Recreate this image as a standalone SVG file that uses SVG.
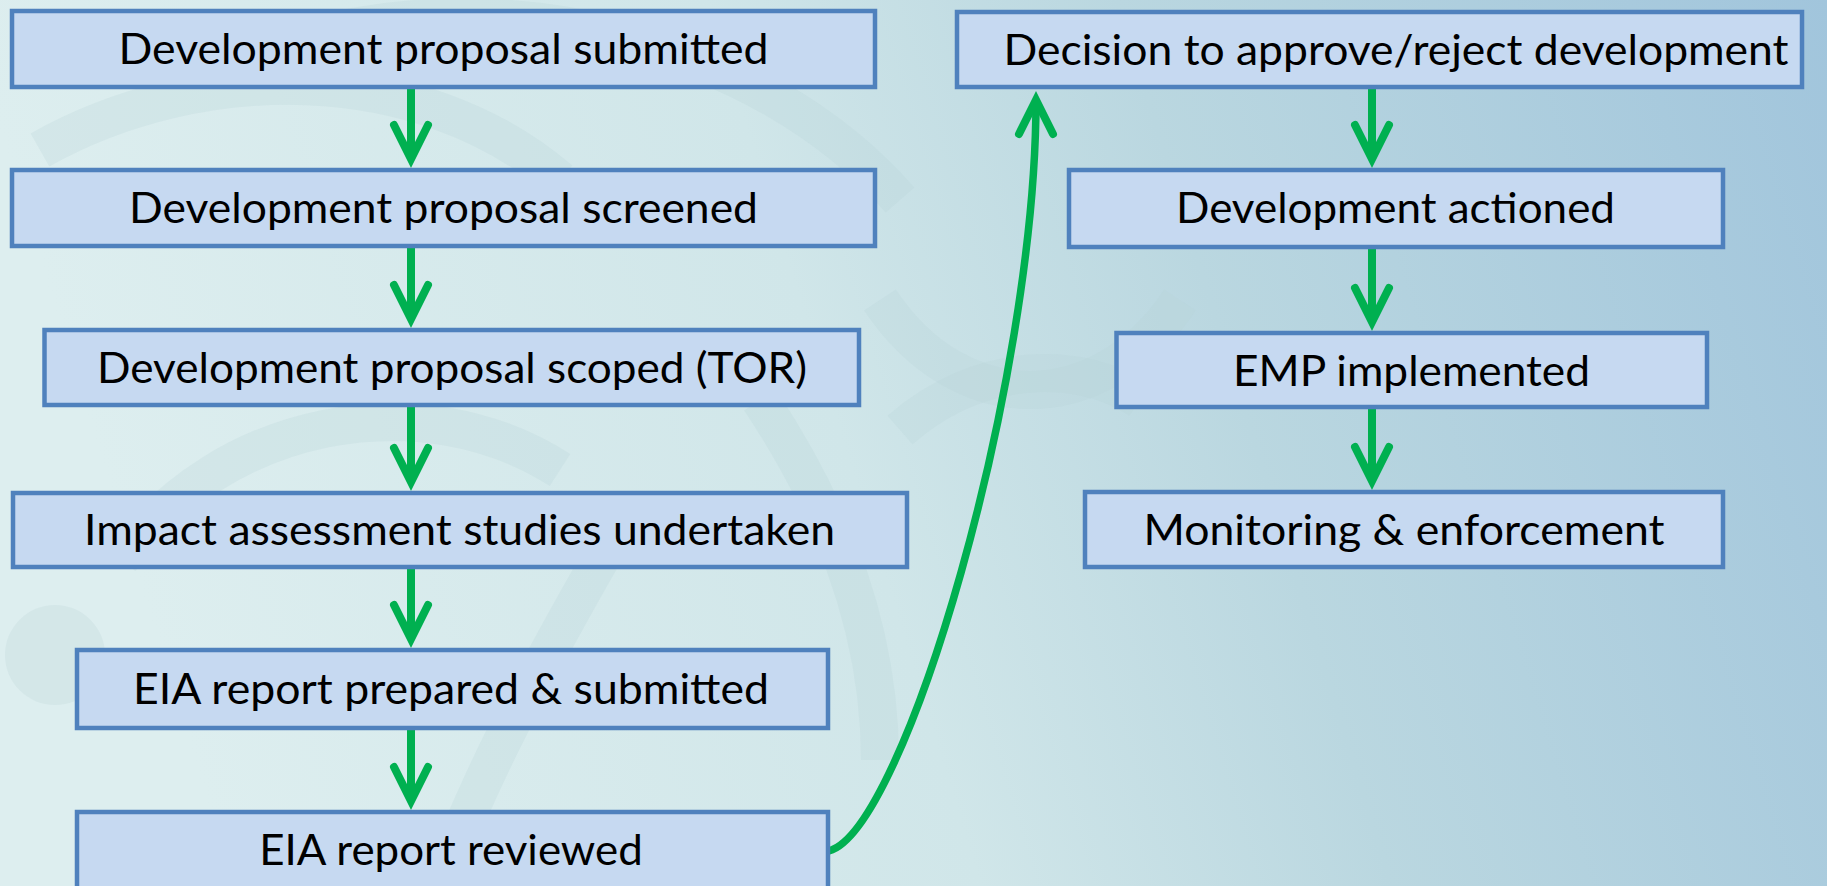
<svg xmlns="http://www.w3.org/2000/svg" width="1827" height="886" viewBox="0 0 1827 886">
  <defs>
    <linearGradient id="bg" x1="0" y1="0.15" x2="1" y2="0">
      <stop offset="0" stop-color="#ddeeef"/>
      <stop offset="0.4" stop-color="#d0e6e9"/>
      <stop offset="0.62" stop-color="#bad7e0"/>
      <stop offset="1" stop-color="#a1c5dc"/>
    </linearGradient>
    <marker id="ah" markerUnits="userSpaceOnUse" markerWidth="60" markerHeight="60" viewBox="-50 -30 60 60" refX="0" refY="0" orient="auto" overflow="visible">
      <path d="M-34,-17 L0,0 L-34,17" fill="none" stroke="#00B050" stroke-width="8" stroke-linecap="round" stroke-linejoin="miter"/>
    </marker>
    <style>
      .box { fill: #C6D9F1; stroke: #4F81BD; stroke-width: 4.5; }
      .lbl { font-family: Lato, "Liberation Sans", sans-serif; font-size: 42px; fill: #000000; text-anchor: middle; }
      .arr { fill: none; stroke: #00B050; stroke-width: 8; marker-end: url(#ah); }
      .deco { fill: none; stroke: #b9d3d6; stroke-opacity: 0.25; stroke-width: 38; }
    </style>
  </defs>

  <rect x="0" y="0" width="1827" height="886" fill="url(#bg)"/>

  <g id="background-decoration">
    <path class="deco" d="M40,150 C200,60 420,60 560,180"/>
    <path class="deco" d="M300,40 C500,-20 760,40 900,200"/>
    <path class="deco" d="M880,300 C960,420 1100,420 1180,300"/>
    <path class="deco" d="M900,430 C980,360 1080,360 1140,400"/>
    <path class="deco" d="M120,560 C220,420 420,380 560,470"/>
    <path class="deco" d="M600,560 C520,700 470,800 440,886"/>
    <path class="deco" d="M760,400 C840,520 880,640 880,760"/>
    <circle cx="55" cy="655" r="50" fill="#c3dadd" fill-opacity="0.35"/>
  </g>

  <g id="connectors">
    <line class="arr" x1="411" y1="89" x2="411" y2="159"/>
    <line class="arr" x1="411" y1="248" x2="411" y2="319"/>
    <line class="arr" x1="411" y1="407" x2="411" y2="482"/>
    <line class="arr" x1="411" y1="569" x2="411" y2="639"/>
    <line class="arr" x1="411" y1="730" x2="411" y2="801"/>
    <line class="arr" x1="1372" y1="89" x2="1372" y2="159"/>
    <line class="arr" x1="1372" y1="249" x2="1372" y2="322"/>
    <line class="arr" x1="1372" y1="409" x2="1372" y2="481"/>
    <path class="arr" style="stroke-width:7.5" d="M829,851 C905,830 1036,380 1036,100"/>
  </g>

  <g id="n1"><rect class="box" x="12" y="11" width="863" height="76"/><text class="lbl" x="443.5" y="64" textLength="650" lengthAdjust="spacingAndGlyphs">Development proposal submitted</text></g>
  <g id="n2"><rect class="box" x="12" y="170" width="863" height="76"/><text class="lbl" x="443.5" y="223" textLength="629" lengthAdjust="spacingAndGlyphs">Development proposal screened</text></g>
  <g id="n3"><rect class="box" x="44.5" y="330" width="814.5" height="75"/><text class="lbl" x="452" y="382.5" textLength="710" lengthAdjust="spacingAndGlyphs">Development proposal scoped (TOR)</text></g>
  <g id="n4"><rect class="box" x="13" y="493" width="894" height="74"/><text class="lbl" x="459.5" y="545" textLength="751" lengthAdjust="spacingAndGlyphs">Impact assessment studies undertaken</text></g>
  <g id="n5"><rect class="box" x="77" y="650" width="751" height="78"/><text class="lbl" x="451" y="704" textLength="636" lengthAdjust="spacingAndGlyphs">EIA report prepared &amp; submitted</text></g>
  <g id="n6"><rect class="box" x="77" y="812" width="751" height="80"/><text class="lbl" x="451" y="865" textLength="383.5" lengthAdjust="spacingAndGlyphs">EIA report reviewed</text></g>
  <g id="n7"><rect class="box" x="957" y="12" width="845" height="75"/><text class="lbl" x="1396" y="64.5" textLength="785" lengthAdjust="spacingAndGlyphs">Decision to approve/reject development</text></g>
  <g id="n8"><rect class="box" x="1069" y="170" width="654" height="77"/><text class="lbl" x="1395.5" y="223" textLength="439" lengthAdjust="spacingAndGlyphs">Development actioned</text></g>
  <g id="n9"><rect class="box" x="1116.5" y="333" width="590.5" height="74"/><text class="lbl" x="1411.5" y="385.5" textLength="357" lengthAdjust="spacingAndGlyphs">EMP implemented</text></g>
  <g id="n10"><rect class="box" x="1085" y="492" width="638" height="75"/><text class="lbl" x="1404" y="545" textLength="521" lengthAdjust="spacingAndGlyphs">Monitoring &amp; enforcement</text></g>
</svg>
